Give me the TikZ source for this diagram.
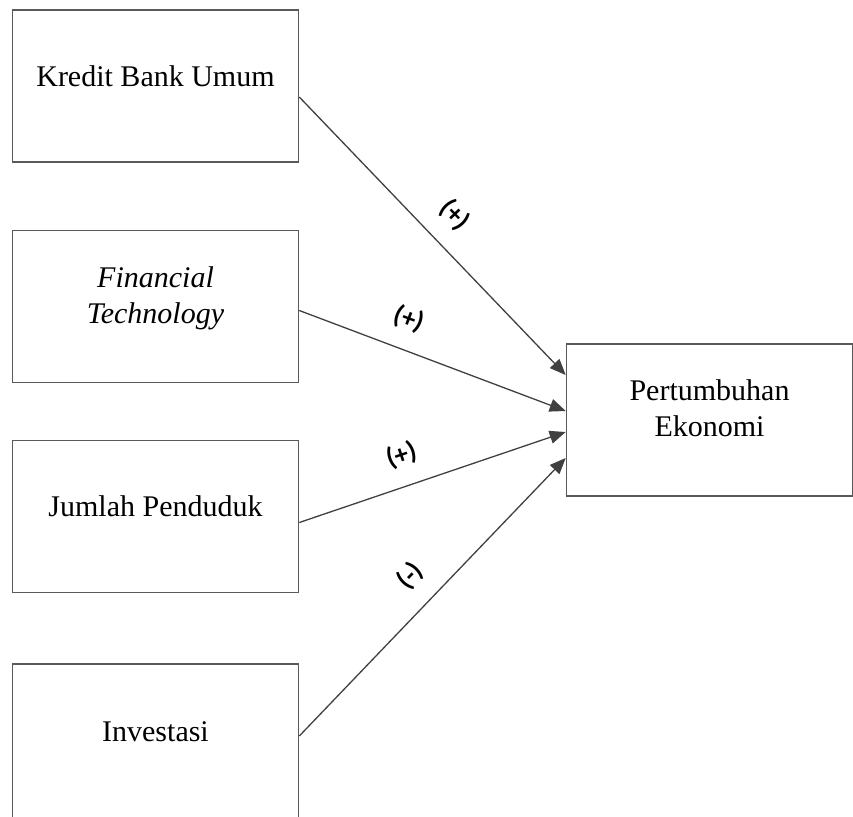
\documentclass[tikz,border=0pt]{standalone}
\usepackage{fontspec}
\setmainfont{Liberation Serif}
\newfontfamily\tandafont{Carlito}
\usetikzlibrary{arrows.meta}

\begin{document}
\begin{tikzpicture}[
    x=0.5pt, y=-0.5pt,
    kotak/.style={rectangle, draw=black!65, line width=0.8pt,
    minimum width=143pt, minimum height=76pt, inner sep=0pt,
    align=center, font=\fontsize{15}{18}\selectfont},
    panah/.style={draw=black!75, line width=0.65pt,
    -{Triangle[length=8pt,width=6.5pt]}},
    tanda/.style={font=\tandafont\bfseries\fontsize{13.5}{15}\selectfont,
    sloped, above=9pt, inner sep=0pt}
]
\useasboundingbox (0,0) rectangle (853,816);

% variabel bebas
\node[kotak, text depth=10pt] (kredit) at (155.5,86) {Kredit Bank Umum};
\node[kotak, text height=16.5pt, text depth=0pt] (fintech) at (155.5,306.5) {\textit{Financial}\\\textit{Technology}};
\node[kotak, text depth=10pt] (jumlah) at (155.5,516.5) {Jumlah Penduduk};
\node[kotak, text depth=12pt, minimum height=80pt] (investasi) at (155.5,744) {Investasi};

% variabel terikat
\node[kotak, text height=16.5pt, text depth=0pt] (ekonomi) at (709.5,420) {Pertumbuhan\\Ekonomi};

\draw[panah] ([yshift=-5.5pt]kredit.east) -- ([yshift=22.5pt]ekonomi.west)
    node[tanda, pos=0.5] {(+)};
\draw[panah] ([yshift=-2pt]fintech.east) -- ([yshift=4.5pt]ekonomi.west)
    node[tanda, pos=0.37] {(+)};
\draw[panah] ([yshift=-3pt]jumlah.east) -- ([yshift=-6pt]ekonomi.west)
    node[tanda, pos=0.42] {(+)};
\draw[panah] ([yshift=4pt]investasi.east) -- ([yshift=-19pt]ekonomi.west)
    node[tanda, pos=0.5] {(-)};
\end{tikzpicture}
\end{document}
